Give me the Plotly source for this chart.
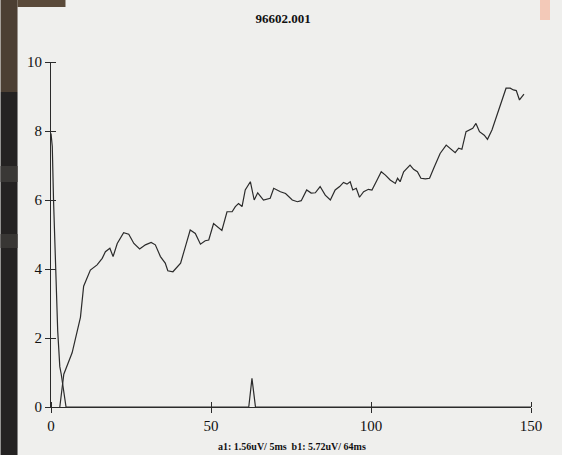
import plotly.graph_objects as go

# Trace a1 (fast descending trace + baseline with small spike)
a1_x = [0.0, 0.4, 0.8, 1.4, 2.1, 2.75, 3.2, 4.7, 61.8, 62.8, 63.9, 150.0]
a1_y = [7.93, 7.55, 5.97, 4.2, 2.2, 1.17, 0.95, 0.0, 0.0, 0.83, 0.0, 0.0]

# Trace b1 (slowly rising trace)
b1_x = [2.75, 4.0, 6.6, 9.2, 10.2, 12.3, 14.4, 16.0, 17.0, 18.4, 19.4, 20.7, 22.7, 24.3,
        25.9, 27.7, 29.5, 31.3, 32.6, 34.2, 35.7, 36.5, 38.1, 39.4, 40.5, 42.0, 43.5,
        45.1, 46.7, 48.2, 49.3, 50.8, 51.8, 53.4, 55.0, 56.6, 57.6, 58.6, 59.7, 60.7,
        62.3, 63.5, 64.6, 66.4, 68.5, 69.6, 71.7, 73.3, 75.4, 77.0, 78.2, 79.9, 81.3,
        82.6, 84.1, 85.7, 87.3, 88.8, 90.2, 91.4, 92.5, 93.5, 94.3, 95.4, 96.4, 97.7,
        99.2, 100.3, 101.9, 103.2, 104.5, 106.0, 107.6, 108.3, 109.1, 110.2, 112.2,
        113.3, 114.5, 115.6, 117.0, 118.3, 119.6, 121.6, 123.5, 125.0, 126.3, 127.4,
        128.4, 129.7, 130.8, 131.8, 132.8, 133.9, 135.4, 136.4, 137.8, 139.3, 140.9,
        142.2, 143.5, 144.5, 145.4, 146.4, 147.8]
b1_y = [0.0, 0.95, 1.57, 2.6, 3.5, 3.97, 4.12, 4.31, 4.5, 4.6, 4.36, 4.74, 5.05, 5.01,
        4.74, 4.58, 4.70, 4.77, 4.70, 4.36, 4.17, 3.95, 3.92, 4.07, 4.17, 4.65, 5.13,
        5.03, 4.72, 4.82, 4.84, 5.32, 5.25, 5.12, 5.66, 5.66, 5.81, 5.90, 5.81, 6.29,
        6.53, 6.0, 6.21, 6.0, 6.05, 6.34, 6.24, 6.19, 6.0, 5.95, 5.98, 6.29, 6.2,
        6.21, 6.39, 6.14, 6.0, 6.29, 6.39, 6.51, 6.46, 6.53, 6.29, 6.34, 6.08, 6.24,
        6.31, 6.29, 6.58, 6.82, 6.72, 6.58, 6.48, 6.63, 6.53, 6.82, 7.01,
        6.89, 6.82, 6.63, 6.61, 6.63, 6.92, 7.35, 7.59, 7.47, 7.37, 7.5,
        7.47, 7.98, 8.03, 8.08, 8.22, 7.98, 7.88, 7.76, 8.03, 8.46, 8.85,
        9.24, 9.24, 9.19, 9.17, 8.9, 9.07]

x_ticks = [0, 50, 100, 150]
y_ticks = [0, 2, 4, 6, 8, 10]
title_text = "96602.001"
xlabel_text = "a1: 1.56uV/ 5ms  b1: 5.72uV/ 64ms"

INK = "#2b2b2b"
PAPER = "#efefed"
SERIF = "Liberation Serif, Times New Roman, serif"

fig = go.Figure()
fig.add_trace(go.Scatter(x=a1_x, y=a1_y, mode="lines",
                         line=dict(color=INK, width=1.2), showlegend=False))
fig.add_trace(go.Scatter(x=b1_x, y=b1_y, mode="lines",
                         line=dict(color=INK, width=1.2), showlegend=False))

# plot area in pixels: x 50.5..531, y 62..407
L, R, T, B = 50.5, 31, 62, 48
W, H = 562, 455
pw, ph = W - L - R, H - T - B


def px(p):
    return (p - L) / pw


def py(q):
    return (H - B - q) / ph


shapes = [
    dict(type="rect", xref="paper", yref="paper", x0=px(0), x1=px(17), y0=py(455), y1=py(92),
         fillcolor="#242222", line_width=0, layer="below"),
    dict(type="rect", xref="paper", yref="paper", x0=px(0), x1=px(17), y0=py(92), y1=py(0),
         fillcolor="#4c3f33", line_width=0, layer="below"),
    dict(type="rect", xref="paper", yref="paper", x0=px(17), x1=px(65), y0=py(7), y1=py(0),
         fillcolor="#5a4a3a", line_width=0, layer="below"),
    dict(type="rect", xref="paper", yref="paper", x0=px(0), x1=px(17), y0=py(182), y1=py(166),
         fillcolor="#3a3836", line_width=0, layer="below"),
    dict(type="rect", xref="paper", yref="paper", x0=px(0), x1=px(17), y0=py(248), y1=py(234),
         fillcolor="#383634", line_width=0, layer="below"),
    dict(type="rect", xref="paper", yref="paper", x0=px(540), x1=px(550), y0=py(20), y1=py(0),
         fillcolor="#f3c9b8", line_width=0, layer="below"),
]

axis_common = dict(showgrid=False, zeroline=False, ticklen=5, tickwidth=1, tickcolor=INK,
                   ticks="outside", showline=True, linecolor=INK, linewidth=1.2,
                   tickfont=dict(family=SERIF, size=15, color="#111"))

fig.update_layout(
    width=W, height=H,
    margin=dict(l=L, r=R, t=T, b=B, autoexpand=False),
    paper_bgcolor=PAPER, plot_bgcolor=PAPER,
    title=dict(text="<b>" + title_text + "</b>", x=(W / 2 + 2) / W, xanchor="center",
               y=1 - 18 / H, yanchor="middle",
               font=dict(family=SERIF, size=13, color="#111")),
    xaxis=dict(range=[0, 150], tickvals=x_ticks,
               minor=dict(tickvals=[v - 1e-6 for v in x_ticks], ticks="inside", ticklen=5,
                          tickwidth=1, tickcolor=INK, showgrid=False),
               **axis_common),
    yaxis=dict(range=[0, 10], tickvals=y_ticks,
               minor=dict(tickvals=[v - 1e-6 for v in y_ticks], ticks="inside", ticklen=5,
                          tickwidth=1, tickcolor=INK, showgrid=False),
               **axis_common),
    annotations=[dict(text="<b>" + xlabel_text + "</b>", xref="paper", yref="paper",
                      x=px(292), y=py(446), xanchor="center", yanchor="middle",
                      showarrow=False, font=dict(family=SERIF, size=10, color="#111"))],
    shapes=shapes,
    font=dict(family=SERIF),
)

fig.write_html(
    "out.html",
    config={"displayModeBar": False},
    post_script="document.body.style.margin='0';document.body.style.background='%s';"
                "document.documentElement.style.overflow='hidden';" % PAPER,
)
